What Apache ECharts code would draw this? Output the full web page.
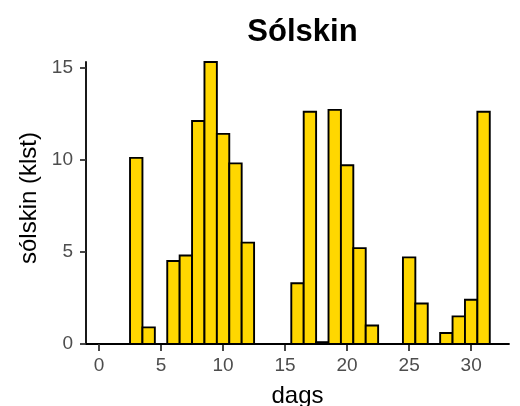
<!DOCTYPE html>
<html>
<head>
<meta charset="utf-8">
<script src="https://cdn.jsdelivr.net/npm/echarts@6/dist/echarts.min.js"></script>
<style>
html,body{margin:0;padding:0;background:#fff;}
#chart{width:520px;height:406px;}
</style>
</head>
<body>
<div id="chart"></div>
<script>
const days = [1,2,3,4,5,6,7,8,9,10,11,12,13,14,15,16,17,18,19,20,21,22,23,24,25,26,27,28,29,30,31];
const sunHours = [0,0,10.1,0.9,0,4.5,4.8,12.1,15.3,11.4,9.8,5.5,0,0,0,3.3,12.6,0.1,12.7,9.7,5.2,1.0,0,0,4.7,2.2,0,0.6,1.5,2.4,12.6];
const xTicks = [0,5,10,15,20,25,30];
const yTicks = [0,5,10,15];
const titleText = 'Sólskin';
const xName = 'dags';
const yName = 'sólskin (klst)';

const FONT = '"Liberation Sans", Arial, sans-serif';
const chart = echarts.init(document.getElementById('chart'), null, {renderer: 'canvas'});
const data = days.map((d, i) => [d, sunHours[i]]);
const xMin = days[0] - 0.5, xMax = days[days.length - 1] + 0.5;
const pad = (xMax - xMin) * 0.05;

chart.setOption({
  animation: false,
  backgroundColor: '#ffffff',
  title: {
    text: titleText,
    left: 297.5,
    top: 12,
    textAlign: 'center',
    textStyle: {fontFamily: FONT, fontSize: 31, fontWeight: 'bold', color: '#000'}
  },
  grid: {left: 86, right: 11, top: 62, bottom: 62, containLabel: false, outerBoundsMode: 'none'},
  xAxis: {
    type: 'value',
    min: xMin - pad,
    max: xMax + pad,
    name: xName,
    nameLocation: 'middle',
    nameGap: 40,
    nameTextStyle: {fontFamily: FONT, fontSize: 24, color: '#000'},
    axisLine: {show: true, onZero: false, lineStyle: {color: '#000', width: 1.8}},
    axisTick: {show: true, length: 7, customValues: xTicks, lineStyle: {color: '#333', width: 1.8}},
    axisLabel: {customValues: xTicks, margin: 12, fontFamily: FONT, fontSize: 19, color: '#4D4D4D'},
    splitLine: {show: false}
  },
  yAxis: {
    type: 'value',
    min: 0,
    max: function (v) { return v.max; },
    name: yName,
    nameLocation: 'middle',
    nameGap: 41,
    nameRotate: 90,
    nameTextStyle: {fontFamily: FONT, fontSize: 24, color: '#000', padding: [0, 0, 0, 10]},
    axisLine: {show: true, onZero: false, lineStyle: {color: '#000', width: 1.8}},
    axisTick: {show: true, length: 6, customValues: yTicks, lineStyle: {color: '#333', width: 1.8}},
    axisLabel: {customValues: yTicks, margin: 13, fontFamily: FONT, fontSize: 19, color: '#4D4D4D'},
    splitLine: {show: false}
  },
  series: [{
    type: 'custom',
    data: data,
    encode: {x: 0, y: 1},
    renderItem: function (params, api) {
      const d = api.value(0), v = api.value(1);
      const p0 = api.coord([d - 0.5, v]);
      const p1 = api.coord([d + 0.5, 0]);
      return {
        type: 'rect',
        shape: {x: p0[0], y: p0[1], width: p1[0] - p0[0], height: p1[1] - p0[1]},
        style: {fill: '#FFD700', stroke: '#000', lineWidth: 1.9}
      };
    }
  }]
});
</script>
</body>
</html>
